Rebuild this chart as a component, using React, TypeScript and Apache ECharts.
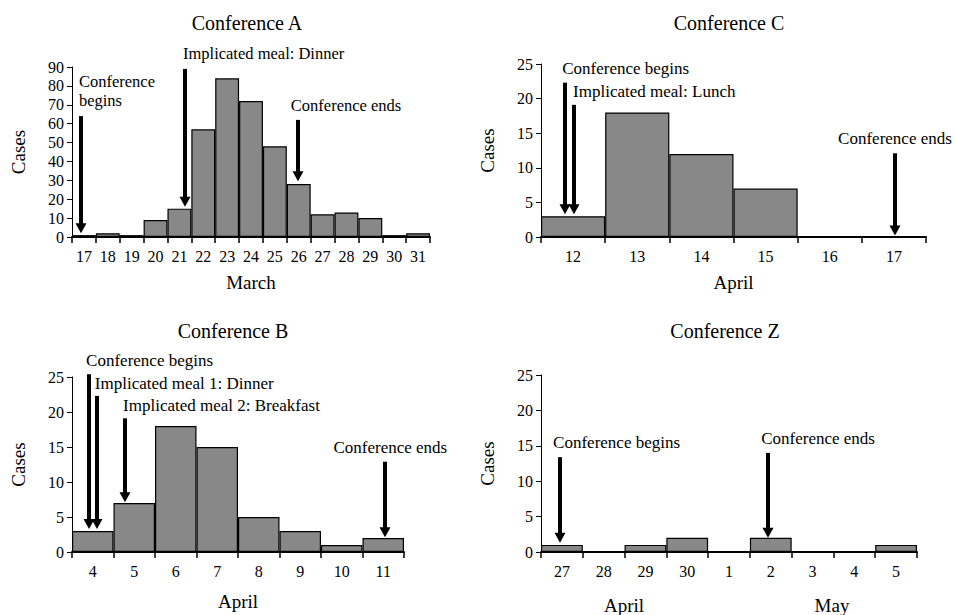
import React, { useEffect, useRef } from "react";
import * as echarts from "echarts";

const A_DAYS = ["17", "18", "19", "20", "21", "22", "23", "24", "25", "26", "27", "28", "29", "30", "31"];
const A_CASES = [1, 2, 1, 9, 15, 57, 84, 72, 48, 28, 12, 13, 10, 1, 2];
const A_ARROWS = [[-0.12, 64, 2], [4.23, 89, 16], [8.97, 62, 29.5]];
const A_NOTE_TEXT = ["Conference", "begins", "Implicated meal: Dinner", "Conference ends"];
const A_NOTE_POS = [[-0.21, 82.1], [-0.21, 72.3], [4.15, 97], [8.67, 69.4]];

const C_DAYS = ["12", "13", "14", "15", "16", "17"];
const C_CASES = [3, 18, 12, 7, 0, 0];
const C_ARROWS = [[-0.126, 22.3, 3.3], [0.014, 19.1, 3.3], [5.02, 12.1, 0.2]];
const C_NOTE_TEXT = ["Conference begins", "Implicated meal: Lunch", "Conference ends"];
const C_NOTE_POS = [[-0.17, 24.3], [0.0, 21.0], [4.13, 14.3]];

const B_DAYS = ["4", "5", "6", "7", "8", "9", "10", "11"];
const B_CASES = [3, 7, 18, 15, 5, 3, 1, 2];
const B_ARROWS = [[-0.09, 25.4, 3.3], [0.1, 22.3, 3.3], [0.78, 19.1, 7.1], [7.04, 12.9, 2.1]];
const B_NOTE_TEXT = ["Conference begins", "Implicated meal 1: Dinner", "Implicated meal 2: Breakfast", "Conference ends"];
const B_NOTE_POS = [[-0.16, 27.3], [0.05, 24.1], [0.73, 21.0], [5.8, 14.9]];

const Z_DAYS = ["27", "28", "29", "30", "1", "2", "3", "4", "5"];
const Z_CASES = [1, 0, 1, 2, 0, 2, 0, 0, 1];
const Z_ARROWS = [[-0.045, 13.4, 1.3], [4.93, 14.0, 2.0]];
const Z_NOTE_TEXT = ["Conference begins", "Conference ends"];
const Z_NOTE_POS = [[-0.21, 15.4], [4.77, 16.0]];

const FONT = '"Liberation Serif", "Times New Roman", serif';

type Panel = {
  title: string;
  titleX: number;
  titleY: number;
  days: string[];
  cases: number[];
  arrows: number[][];
  noteText: string[];
  notePos: number[][];
  grid: { left: number; top: number; width: number; height: number };
  yMax: number;
  yInterval: number;
  xName: string;
  xNameGap: number;
  noteSize: number;
};

const PANELS: Panel[] = [
  { title: "Conference A", titleX: 247, titleY: 23, days: A_DAYS, cases: A_CASES, arrows: A_ARROWS, noteText: A_NOTE_TEXT, notePos: A_NOTE_POS, grid: { left: 72, top: 67, width: 358, height: 170 }, yMax: 90, yInterval: 10, xName: "March", xNameGap: 36, noteSize: 16.5 },
  { title: "Conference C", titleX: 729, titleY: 23, days: C_DAYS, cases: C_CASES, arrows: C_ARROWS, noteText: C_NOTE_TEXT, notePos: C_NOTE_POS, grid: { left: 541, top: 64, width: 385, height: 173 }, yMax: 25, yInterval: 5, xName: "April", xNameGap: 36, noteSize: 17 },
  { title: "Conference B", titleX: 233, titleY: 331, days: B_DAYS, cases: B_CASES, arrows: B_ARROWS, noteText: B_NOTE_TEXT, notePos: B_NOTE_POS, grid: { left: 72, top: 377, width: 332, height: 175 }, yMax: 25, yInterval: 5, xName: "April", xNameGap: 40, noteSize: 17 },
  { title: "Conference Z", titleX: 725, titleY: 331, days: Z_DAYS, cases: Z_CASES, arrows: Z_ARROWS, noteText: Z_NOTE_TEXT, notePos: Z_NOTE_POS, grid: { left: 541, top: 375, width: 376, height: 177 }, yMax: 25, yInterval: 5, xName: "", xNameGap: 36, noteSize: 17 },
];

// category index i sits at the middle of slot [i, i+1] on the hidden value axis (0..n)
const SHIFT = 0.5;

function buildOption() {
  const grid: any[] = [];
  const xAxis: any[] = [];
  const yAxis: any[] = [];
  const series: any[] = [];
  const graphic: any[] = [];

  PANELS.forEach((p, i) => {
    grid.push({ ...p.grid, containLabel: false });
    xAxis.push({
      type: "category",
      gridIndex: i,
      data: p.days,
      boundaryGap: true,
      axisLine: { show: true, lineStyle: { color: "#000", width: 2 } },
      axisTick: { show: true, length: 6, lineStyle: { color: "#000", width: 1.5 } },
      axisLabel: { color: "#000", fontFamily: FONT, fontSize: 16, margin: 11, interval: 0 },
      name: p.xName,
      nameLocation: "middle",
      nameGap: p.xNameGap,
      nameTextStyle: { color: "#000", fontFamily: FONT, fontSize: 19 },
      splitLine: { show: false },
      z: 5,
    });
    xAxis.push({
      type: "value",
      gridIndex: i,
      min: 0,
      max: p.days.length,
      show: false,
    });
    yAxis.push({
      type: "value",
      gridIndex: i,
      min: 0,
      max: p.yMax,
      interval: p.yInterval,
      axisLine: { show: true, lineStyle: { color: "#000", width: 1 } },
      axisTick: { show: true, length: 5, lineStyle: { color: "#000" } },
      axisLabel: { color: "#000", fontFamily: FONT, fontSize: 16, margin: 8 },
      splitLine: { show: false },
      name: "Cases",
      nameLocation: "middle",
      nameRotate: 90,
      nameGap: 44,
      nameTextStyle: { color: "#000", fontFamily: FONT, fontSize: 19 },
    });
    series.push({
      type: "bar",
      xAxisIndex: i * 2,
      yAxisIndex: i,
      data: p.cases,
      barCategoryGap: "0%",
      itemStyle: { color: "#888888", borderColor: "#000", borderWidth: 1.2 },
      silent: true,
    });
    series.push({
      type: "custom",
      xAxisIndex: i * 2 + 1,
      yAxisIndex: i,
      data: p.arrows.map((a) => [a[0] + SHIFT, a[1], a[2]]),
      silent: true,
      clip: false,
      z: 10,
      renderItem: (params: any, api: any) => {
        const top = api.coord([api.value(0), api.value(1)]);
        const tip = api.coord([api.value(0), api.value(2)]);
        const x = Math.round(tip[0]);
        const hh = 10;
        const hw = 5.5;
        return {
          type: "group",
          children: [
            {
              type: "rect",
              shape: { x: x - 2, y: top[1], width: 4, height: tip[1] - hh - top[1] + 1 },
              style: { fill: "#000" },
            },
            {
              type: "polygon",
              shape: { points: [[x - hw, tip[1] - hh], [x + hw, tip[1] - hh], [x, tip[1]]] },
              style: { fill: "#000" },
            },
          ],
        };
      },
    });
    series.push({
      type: "custom",
      xAxisIndex: i * 2 + 1,
      yAxisIndex: i,
      data: p.notePos.map((a) => [a[0] + SHIFT, a[1]]),
      silent: true,
      clip: false,
      z: 10,
      renderItem: (params: any, api: any) => {
        const pt = api.coord([api.value(0), api.value(1)]);
        return {
          type: "text",
          x: pt[0],
          y: pt[1],
          style: {
            text: p.noteText[params.dataIndex],
            fill: "#000",
            font: `${p.noteSize}px ${FONT}`,
            align: "left",
            verticalAlign: "middle",
          },
        };
      },
    });
    graphic.push({
      type: "text",
      x: p.titleX,
      y: p.titleY,
      style: { text: p.title, fill: "#000", font: `20px ${FONT}`, align: "center", verticalAlign: "middle" },
    });
  });

  graphic.push({
    type: "text",
    x: 624,
    y: 605,
    style: { text: "April", fill: "#000", font: `19px ${FONT}`, align: "center", verticalAlign: "middle" },
  });
  graphic.push({
    type: "text",
    x: 832,
    y: 605,
    style: { text: "May", fill: "#000", font: `19px ${FONT}`, align: "center", verticalAlign: "middle" },
  });

  return { animation: false, backgroundColor: "#fff", grid, xAxis, yAxis, series, graphic };
}

export default function App() {
  const ref = useRef<HTMLDivElement>(null);
  useEffect(() => {
    document.body.style.margin = "0";
    const chart = echarts.init(ref.current!, undefined, { renderer: "svg" });
    chart.setOption(buildOption() as any);
    return () => chart.dispose();
  }, []);
  return <div ref={ref} style={{ width: 955, height: 615 }} />;
}
